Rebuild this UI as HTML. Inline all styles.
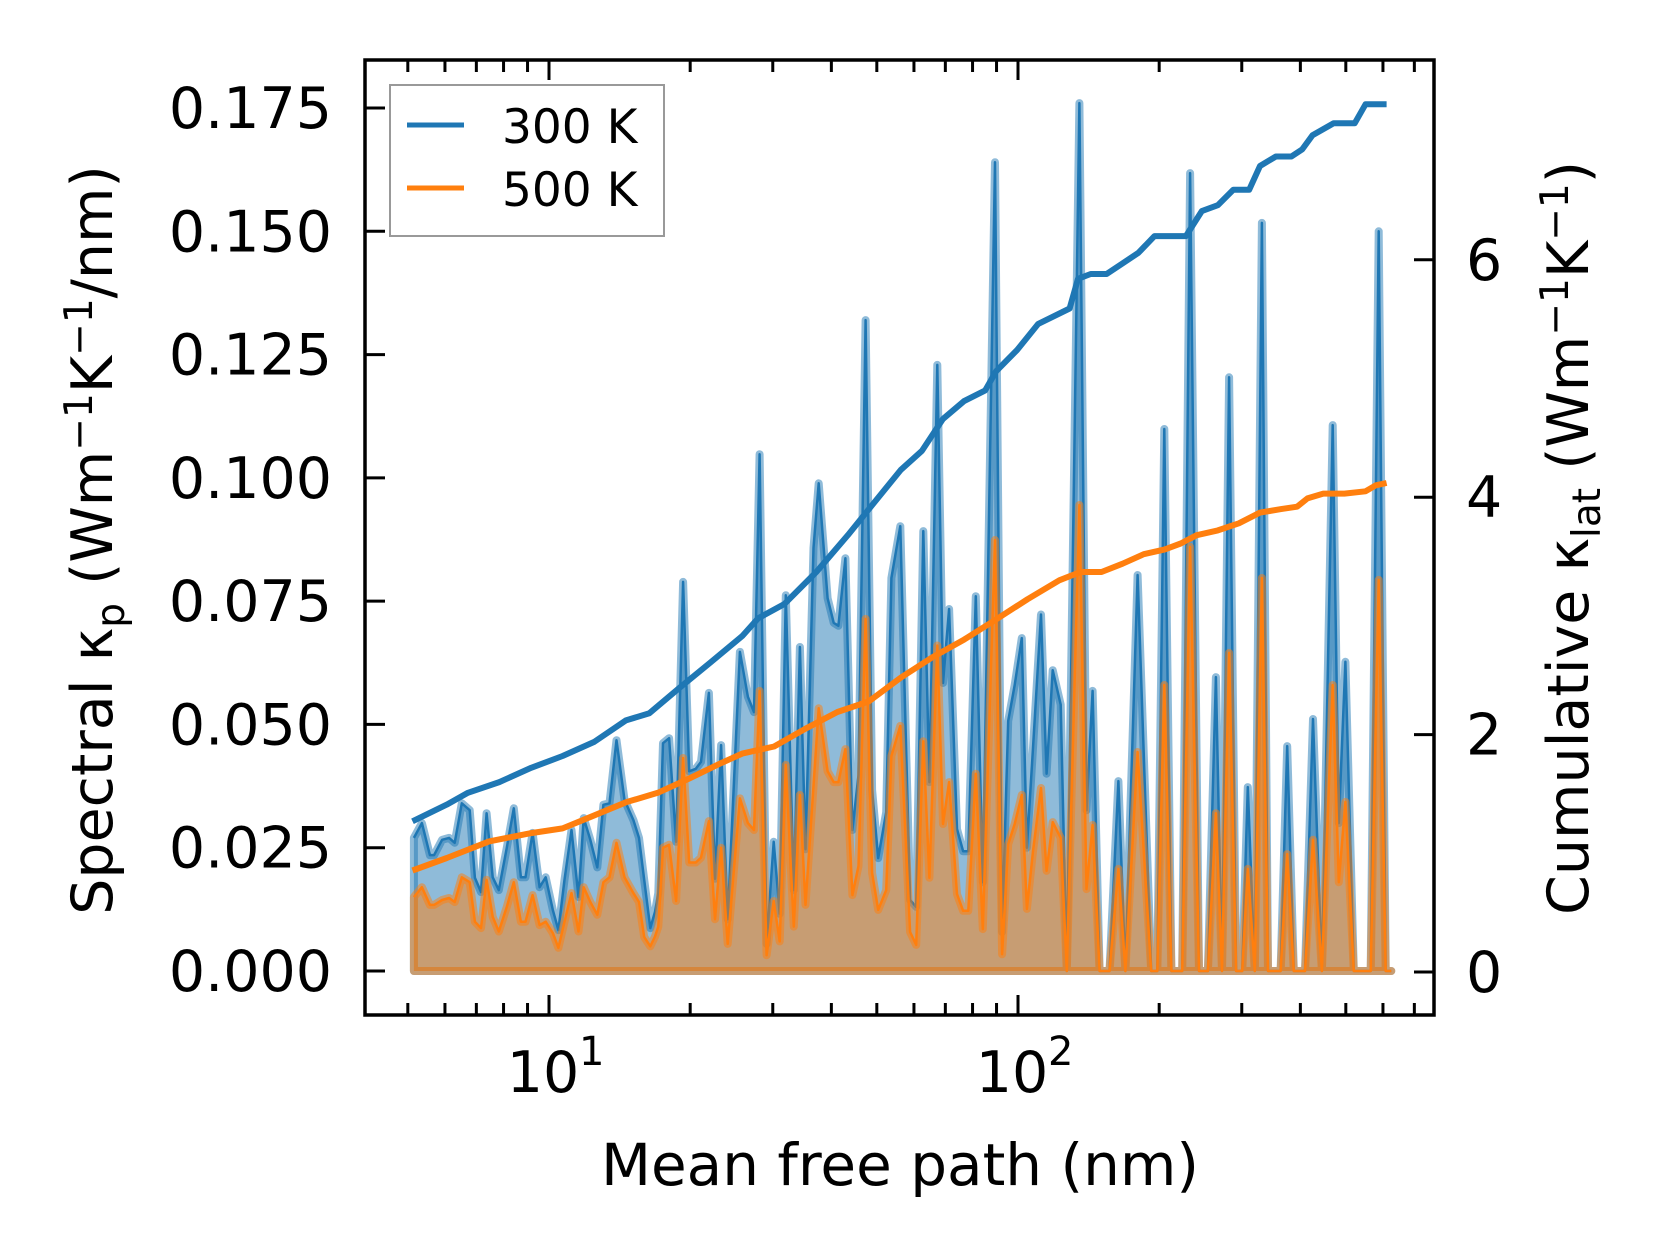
<!DOCTYPE html>
<html><head><meta charset="utf-8"><style>
html,body{margin:0;padding:0;background:#fff;}
svg{display:block;font-family:"DejaVu Sans","Liberation Sans",sans-serif;}
</style></head><body>
<svg id="chart" width="1660" height="1254" viewBox="0 0 1660 1254" xmlns="http://www.w3.org/2000/svg">
<rect width="1660" height="1254" fill="#fff"/>
<g id="plot"></g>
<g id="axes"></g>
</svg>
<script>
// ---- spectral data (log10 of mean free path in nm) ----
const specLogMfp = [0.712,0.729,0.746,0.755,0.772,0.787,0.799,0.814,0.831,0.842,0.855,0.867,0.880,0.893,0.910,0.925,0.940,0.950,0.965,0.980,0.993,1.008,1.020,1.033,1.048,1.063,1.074,1.088,1.103,1.116,1.129,1.144,1.161,1.180,1.192,1.203,1.216,1.226,1.233,1.243,1.256,1.271,1.286,1.299,1.313,1.324,1.341,1.354,1.367,1.381,1.407,1.424,1.437,1.449,1.464,1.479,1.492,1.505,1.522,1.535,1.547,1.564,1.575,1.594,1.607,1.617,1.632,1.647,1.660,1.675,1.689,1.702,1.719,1.730,1.749,1.770,1.783,1.798,1.811,1.828,1.840,1.853,1.870,1.883,1.894,1.910,1.925,1.951,1.966,1.979,1.993,2.008,2.019,2.032,2.049,2.061,2.074,2.091,2.104,2.131,2.146,2.159,2.174,2.195,2.214,2.229,2.255,2.284,2.297,2.312,2.327,2.350,2.367,2.386,2.405,2.422,2.435,2.450,2.465,2.478,2.490,2.505,2.520,2.533,2.560,2.574,2.588,2.612,2.629,2.648,2.671,2.684,2.698,2.716,2.752,2.769,2.784,2.796];
const spec300 = [0.027,0.030,0.0235,0.0235,0.0266,0.027,0.026,0.034,0.0326,0.0189,0.016,0.032,0.019,0.0164,0.025,0.033,0.019,0.019,0.028,0.017,0.019,0.0124,0.0083,0.0185,0.0286,0.015,0.031,0.0266,0.021,0.0337,0.034,0.0468,0.0347,0.0306,0.027,0.0185,0.0087,0.012,0.0158,0.0462,0.0472,0.0262,0.0789,0.0405,0.041,0.0424,0.0564,0.0187,0.0458,0.0105,0.0647,0.0556,0.0525,0.1048,0.0055,0.0262,0.0116,0.0762,0.0164,0.0657,0.0247,0.0858,0.0989,0.0756,0.0706,0.070,0.0837,0.0286,0.0397,0.132,0.0367,0.0229,0.0322,0.0797,0.0902,0.0144,0.013,0.0892,0.0383,0.1229,0.0584,0.0734,0.0288,0.0243,0.0243,0.076,0.018,0.164,0.0079,0.0507,0.058,0.0675,0.025,0.0452,0.0723,0.040,0.061,0.054,0,0.176,0.0326,0.0568,0,0,0.0385,0,0.0803,0,0,0.1099,0,0,0.1618,0,0,0.0596,0,0.1204,0,0,0.0373,0,0.1517,0,0,0.0456,0,0,0.0511,0,0.1107,0.030,0.0627,0,0,0.150,0,0];
const spec500 = [0.015,0.017,0.0134,0.0134,0.0144,0.0148,0.014,0.019,0.018,0.010,0.0087,0.0185,0.011,0.008,0.013,0.018,0.010,0.010,0.0154,0.0093,0.010,0.0077,0.0047,0.010,0.0158,0.008,0.017,0.014,0.0114,0.018,0.019,0.026,0.019,0.0158,0.014,0.0069,0.005,0.007,0.009,0.025,0.0256,0.0142,0.0432,0.022,0.022,0.023,0.0304,0.0105,0.025,0.0055,0.035,0.030,0.0286,0.0568,0.0032,0.0142,0.006,0.0418,0.009,0.0357,0.0134,0.0375,0.0533,0.0405,0.0383,0.0383,0.045,0.0154,0.0213,0.0714,0.0199,0.0124,0.0164,0.0436,0.0497,0.0079,0.0053,0.0466,0.0189,0.066,0.0298,0.0383,0.0156,0.0122,0.0122,0.040,0.0085,0.0874,0.0034,0.0257,0.0298,0.0357,0.0126,0.0243,0.0371,0.0203,0.0302,0.027,0,0.0945,0.0166,0.0296,0,0,0.0207,0,0.0444,0,0,0.058,0,0,0.086,0,0,0.032,0,0.0645,0,0,0.0207,0,0.0797,0,0,0.0237,0,0,0.0266,0,0.058,0.018,0.0343,0,0,0.0793,0,0];
// ---- cumulative data ----
const cumLog300 = [0.709,0.782,0.827,0.894,0.962,1.029,1.097,1.164,1.214,1.277,1.345,1.412,1.446,1.502,1.570,1.637,1.682,1.750,1.795,1.840,1.885,1.930,1.953,1.998,2.043,2.110,2.128,2.155,2.189,2.223,2.257,2.291,2.358,2.392,2.426,2.459,2.493,2.516,2.550,2.583,2.606,2.628,2.673,2.718,2.741,2.786];
const cum300 = [1.27,1.41,1.51,1.60,1.72,1.82,1.94,2.12,2.18,2.39,2.61,2.83,2.98,3.10,3.37,3.68,3.90,4.23,4.39,4.66,4.81,4.90,5.06,5.24,5.46,5.59,5.84,5.88,5.88,5.97,6.06,6.20,6.20,6.41,6.46,6.59,6.59,6.79,6.87,6.87,6.93,7.05,7.15,7.15,7.31,7.31];
const cumLog500 = [0.709,0.782,0.872,0.962,1.029,1.097,1.164,1.232,1.299,1.367,1.412,1.480,1.547,1.615,1.682,1.750,1.817,1.885,1.953,2.020,2.088,2.133,2.178,2.223,2.268,2.313,2.347,2.381,2.426,2.471,2.516,2.561,2.595,2.617,2.651,2.696,2.741,2.763,2.786];
const cum500 = [0.855,0.96,1.10,1.17,1.21,1.32,1.43,1.51,1.63,1.76,1.84,1.90,2.05,2.19,2.28,2.48,2.65,2.80,2.97,3.14,3.30,3.37,3.37,3.44,3.52,3.56,3.61,3.68,3.72,3.78,3.87,3.90,3.92,3.99,4.03,4.03,4.05,4.10,4.12];
const leftTicks = ["0.000","0.025","0.050","0.075","0.100","0.125","0.150","0.175"];
const rightTicks = ["0","2","4","6"];
const xDecades = [1,2];

const NS="http://www.w3.org/2000/svg";
const X0=365,X1=1434,Y0=60,Y1=1015;
function xs(lg){return 549+(lg-1)*469;}
function yl(v){return 971-v*(863/0.175);}
function yr(v){return 972-v*118.7;}
function mk(tag,attrs,parent){const e=document.createElementNS(NS,tag);for(const k in attrs)e.setAttribute(k,attrs[k]);parent.appendChild(e);return e;}
const plot=document.getElementById('plot'), axes=document.getElementById('axes');

function specPath(vals){
  let d='M'+xs(specLogMfp[0]).toFixed(1)+','+yl(0).toFixed(1);
  for(let i=0;i<vals.length;i++) d+=' L'+xs(specLogMfp[i]).toFixed(1)+','+yl(vals[i]).toFixed(1);
  d+=' L'+xs(specLogMfp[specLogMfp.length-1]).toFixed(1)+','+yl(0).toFixed(1)+' Z';
  return d;
}
function linePath(lx,vals,yf){
  let d='';
  for(let i=0;i<vals.length;i++) d+=(i?' L':'M')+xs(lx[i]).toFixed(1)+','+yf(vals[i]).toFixed(1);
  return d;
}
const f300=mk('path',{d:specPath(spec300),fill:'rgba(31,119,180,0.5)',stroke:'rgba(31,119,180,0.5)','stroke-width':8,'stroke-linejoin':'round'},plot);


const l300=mk('path',{d:linePath(specLogMfp,spec300,yl),fill:'none',stroke:'#1f77b4','stroke-width':2.5,'stroke-linejoin':'round'},plot);


const f500=mk('path',{d:specPath(spec500),fill:'rgba(255,127,14,0.5)',stroke:'rgba(255,127,14,0.5)','stroke-width':8,'stroke-linejoin':'round'},plot);


const l500=mk('path',{d:linePath(specLogMfp,spec500,yl),fill:'none',stroke:'#ff7f0e','stroke-width':2.5,'stroke-linejoin':'round'},plot);


const c300=mk('path',{d:linePath(cumLog300,cum300,yr),fill:'none',stroke:'#1f77b4','stroke-width':6,'stroke-linejoin':'round'},plot);


const c500=mk('path',{d:linePath(cumLog500,cum500,yr),fill:'none',stroke:'#ff7f0e','stroke-width':6,'stroke-linejoin':'round'},plot);



// frame
const fr=mk('rect',{x:X0,y:Y0,width:X1-X0,height:Y1-Y0,fill:'none',stroke:'#000','stroke-width':3.5},axes);


leftTicks.forEach((t,i)=>{
  const y=yl(i*0.025);
  mk('line',{x1:X0,x2:X0+20,y1:y,y2:y,stroke:'#000','stroke-width':3},axes);
  const tx=mk('text',{x:332,y:y+20,'text-anchor':'end','font-size':57},axes);
  tx.textContent=t;
  
  
});
rightTicks.forEach((t,i)=>{
  const y=yr(i*2);
  mk('line',{x1:X1-20,x2:X1,y1:y,y2:y,stroke:'#000','stroke-width':3},axes);
  const tx=mk('text',{x:1466,y:y+20,'font-size':57},axes);
  tx.textContent=t;
  
  
});
for(let dec=0;dec<=2;dec++){
  for(let m=1;m<=9;m++){
    const lg=dec+Math.log10(m), x=xs(lg);
    if(x<X0+2||x>X1-2) continue;
    const len=m===1?20:12;
    mk('line',{x1:x,x2:x,y1:Y1,y2:Y1-len,stroke:'#000','stroke-width':3},axes);
    mk('line',{x1:x,x2:x,y1:Y0,y2:Y0+len,stroke:'#000','stroke-width':3},axes);
  }
}
xDecades.forEach(d=>{
  const x=xs(d);
  const tx=mk('text',{x:x-6,y:1092,'text-anchor':'middle','font-size':57},axes);
  tx.textContent='10';
  
  
  const sp=mk('text',{x:x+30,y:1065,'font-size':40},axes);
  sp.textContent=String(d);
  
  
});
const svg=document.getElementById('chart');
svg.insertAdjacentHTML('beforeend',`
<text x="900" y="1185" text-anchor="middle" font-size="58">Mean free path (nm)</text>
<text transform="translate(112,540) rotate(-90)" text-anchor="middle" font-size="57">Spectral κ<tspan font-size="39" dy="12">p</tspan><tspan dy="-12"> (Wm</tspan><tspan font-size="39" dy="-20">−1</tspan><tspan dy="20">K</tspan><tspan font-size="39" dy="-20">−1</tspan><tspan dy="20">/nm)</tspan></text>
<text transform="translate(1588,538) rotate(-90)" text-anchor="middle" font-size="57">Cumulative κ<tspan font-size="39" dy="12">lat</tspan><tspan dy="-12"> (Wm</tspan><tspan font-size="39" dy="-20">−1</tspan><tspan dy="20">K</tspan><tspan font-size="39" dy="-20">−1</tspan><tspan dy="20">)</tspan></text>
<g>
<rect x="390" y="85" width="274" height="151" fill="#fff" stroke="#999" stroke-width="2"/>
<line x1="407" x2="464" y1="125" y2="125" stroke="#1f77b4" stroke-width="5"/>
<text x="502" y="143" font-size="47">300 K</text>
<line x1="407" x2="464" y1="188" y2="188" stroke="#ff7f0e" stroke-width="5"/>
<text x="502" y="206" font-size="47">500 K</text>
</g>`);
</script>
</body></html>
